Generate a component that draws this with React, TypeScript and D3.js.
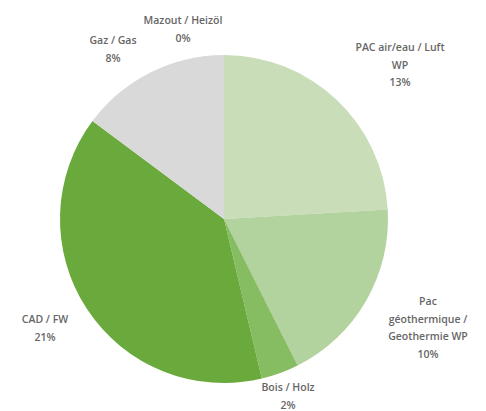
import React from "react";
import * as d3 from "d3";

const categories = [
  "PAC air/eau / Luft WP",
  "Pac géothermique / Geothermie WP",
  "Bois / Holz",
  "CAD / FW",
  "Gaz / Gas",
  "Mazout / Heizöl",
];
const values = [13, 10, 2, 21, 8, 0];
const labelLines = [
  ["PAC air/eau / Luft", "WP", "13%"],
  ["Pac", "géothermique /", "Geothermie WP", "10%"],
  ["Bois / Holz", "2%"],
  ["CAD / FW", "21%"],
  ["Gaz / Gas", "8%"],
  ["Mazout / Heizöl", "0%"],
];
const colors = ["#c9ddb9", "#b2d29e", "#86bc62", "#6aa93c", "#d9d9d9", "#a5a5a5"];

// layout (label anchor = first line center)
const W = 486;
const H = 411;
const cx = 224;
const cy = 219;
const R = 164;
const labelAnchors: [number, number][] = [
  [400, 48],
  [428, 302],
  [288, 388],
  [45, 320],
  [113, 41],
  [183, 21],
];
const lineH = 17.5;

export default function App() {
  const pie = d3
    .pie<number>()
    .sort(null)
    .value((d) => d);
  const arcs = pie(values);
  const arc = d3.arc<d3.PieArcDatum<number>>().innerRadius(0).outerRadius(R);

  return (
    <svg
      width={W}
      height={H}
      style={{ position: "absolute", left: 0, top: 0, background: "#fff" }}
    >
      <g transform={`translate(${cx},${cy})`}>
        {arcs.map((a, i) =>
          a.endAngle > a.startAngle ? (
            <path key={categories[i]} d={arc(a) || ""} fill={colors[i]} />
          ) : null
        )}
      </g>
      {labelLines.map((lines, i) => (
        <text
          key={categories[i]}
          x={labelAnchors[i][0]}
          y={labelAnchors[i][1]}
          textAnchor="middle"
          dominantBaseline="middle"
          fontFamily="'Open Sans', sans-serif"
          fontSize={10.5}
          fontWeight={600}
          fill="#666"
        >
          {lines.map((l, j) => (
            <tspan key={j} x={labelAnchors[i][0]} dy={j === 0 ? 0 : lineH}>
              {l}
            </tspan>
          ))}
        </text>
      ))}
    </svg>
  );
}
